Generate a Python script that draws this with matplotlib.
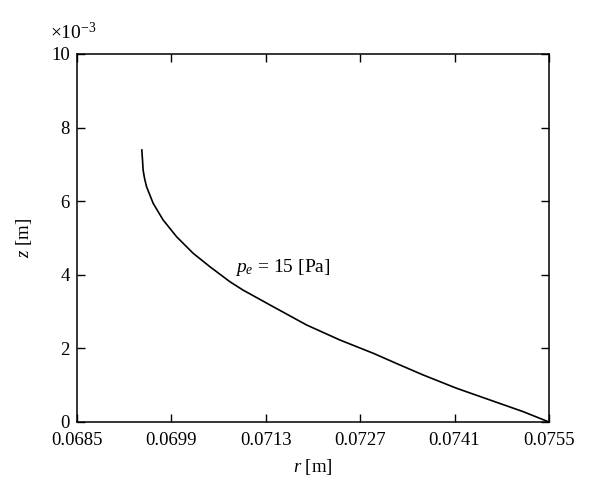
import matplotlib
matplotlib.use("Agg")
import matplotlib.pyplot as plt

plt.rcParams['font.family'] = ['Liberation Serif', 'DejaVu Serif']
plt.rcParams['mathtext.fontset'] = 'custom'
plt.rcParams['mathtext.rm'] = 'Liberation Serif'
plt.rcParams['mathtext.it'] = 'Liberation Serif:italic'

r_vals = [0.069464, 0.069474, 0.069483, 0.069504, 0.069534, 0.069583, 0.069632,
          0.069706, 0.069780, 0.069979, 0.070225,
          0.070473, 0.070769, 0.070962, 0.071411, 0.071907, 0.072401, 0.072895,
          0.073291, 0.073636, 0.074131, 0.074625, 0.075119, 0.0755]
z_vals = [7.391e-3, 7.120e-3, 6.848e-3, 6.622e-3, 6.394e-3, 6.168e-3, 5.943e-3,
          5.715e-3, 5.489e-3, 5.035e-3, 4.584e-3,
          4.220e-3, 3.813e-3, 3.587e-3, 3.133e-3, 2.636e-3, 2.228e-3, 1.867e-3,
          1.549e-3, 1.277e-3, 0.916e-3, 0.598e-3, 0.280e-3, 0.0]
x_ticks = [0.0685, 0.0699, 0.0713, 0.0727, 0.0741, 0.0755]
x_tick_labels = ["0.0685", "0.0699", "0.0713", "0.0727", "0.0741", "0.0755"]
y_ticks = [0, 2e-3, 4e-3, 6e-3, 8e-3, 10e-3]
y_tick_labels = ["0", "2", "4", "6", "8", "10"]

fig = plt.figure(figsize=(6, 5), dpi=100)
ax = fig.add_axes([0.128, 0.156, 0.787, 0.736])
ax.plot(r_vals, z_vals, color='black', lw=1.2, solid_joinstyle='round')
ax.set_xlim(0.0685, 0.0755)
ax.set_ylim(0, 10e-3)
ax.set_xticks(x_ticks)
ax.set_xticklabels(x_tick_labels)
ax.set_yticks(y_ticks)
ax.set_yticklabels(y_tick_labels)
ax.tick_params(direction='in', top=True, right=True, length=6, width=1,
               labelsize=13.5, pad=5)
ax.tick_params(axis='x', pad=7)
for s in ax.spines.values():
    s.set_linewidth(1.1)
ax.set_xlabel(r'$r$ [m]', fontsize=13.5, labelpad=6)
ax.set_ylabel(r'$z$ [m]', fontsize=13.5, labelpad=12)
ax.text(-0.057, 1.03, r'$\times10^{-3}$', transform=ax.transAxes, fontsize=14,
        ha='left', va='bottom')
ax.text(0.070843, 4.21e-3, r'$p_e$ = 15 [Pa]', fontsize=14, ha='left', va='center')
fig.savefig('out.png', dpi=100)
